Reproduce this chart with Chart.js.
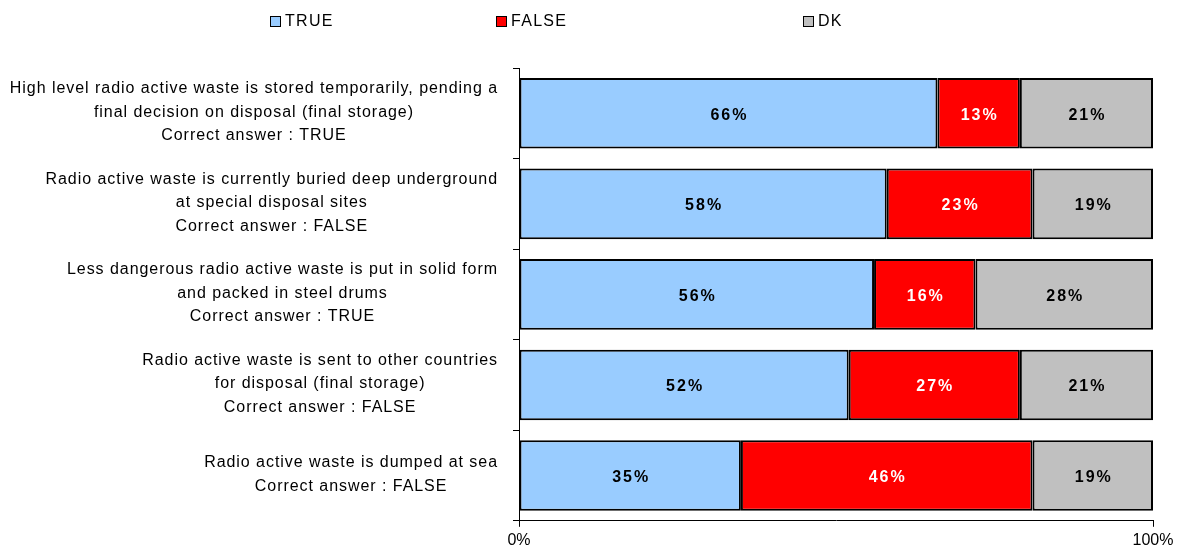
<!DOCTYPE html>
<html>
<head>
<meta charset="utf-8">
<script src="https://cdn.jsdelivr.net/npm/chart.js@4.4.0/dist/chart.umd.min.js"></script>
<style>
  html, body { margin: 0; padding: 0; background: #fff; }
  #wrap { position: relative; width: 1180px; height: 554px; }
  #legend { position: absolute; left: 0; top: 0; width: 1180px; height: 40px; font-family: "Liberation Sans", Arial, sans-serif; font-size: 16px; color: #000; }
  .item { position: absolute; top: 12px; display: flex; align-items: center; letter-spacing: 1.3px; }
  .box { width: 9px; height: 9px; border: 1.5px solid #000; margin-right: 4px; }
</style>
</head>
<body>
<div id="wrap">
  <div id="legend"></div>
  <canvas id="grafico" width="1180" height="554"></canvas>
</div>
<script>
// Categorías (etiquetas del eje Y, una línea por elemento)
const categorias = [
  ["High level radio active waste is stored temporarily, pending a", "final decision on disposal (final storage)", "Correct answer : TRUE"],
  ["Radio active waste is currently buried deep underground", "at special disposal sites", "Correct answer : FALSE"],
  ["Less dangerous radio active waste is put in solid form", "and packed in steel drums", "Correct answer : TRUE"],
  ["Radio active waste is sent to other countries", "for disposal (final storage)", "Correct answer : FALSE"],
  ["Radio active waste is dumped at sea", "Correct answer : FALSE"]
];

// Series (%)
const valoresTrue  = [66, 58, 56, 52, 35];
const valoresFalse = [13, 23, 16, 27, 46];
const valoresDK    = [21, 19, 28, 21, 19];

const nombresSeries = ["TRUE", "FALSE", "DK"];
const colores = ["#99CCFF", "#FF0000", "#C0C0C0"];
const coloresTexto = ["#000", "#fff", "#000"];

// Leyenda en HTML (posiciones como en el original)
const posLeyenda = [270, 496, 803];
const legendDiv = document.getElementById('legend');
nombresSeries.forEach((n, i) => {
  const el = document.createElement('div');
  el.className = 'item';
  el.style.left = posLeyenda[i] + 'px';
  el.innerHTML = `<span class="box" style="background:${colores[i]}"></span><span>${n}</span>`;
  legendDiv.appendChild(el);
});

// Etiquetas del eje Y: bloque alineado a la derecha, líneas centradas
const etiquetasY = {
  id: 'etiquetasY',
  afterDraw(chart) {
    const ctx = chart.ctx;
    const y = chart.scales.y;
    ctx.save();
    ctx.font = '16px "Liberation Sans", Arial, sans-serif';
    if ('letterSpacing' in ctx) ctx.letterSpacing = '0.95px';
    ctx.fillStyle = '#000';
    ctx.textBaseline = 'middle';
    ctx.textAlign = 'center';
    const derecha = chart.chartArea.left - 21;
    const altoLinea = 23.5;
    categorias.forEach((lineas, i) => {
      const ancho = Math.max(...lineas.map(l => ctx.measureText(l).width));
      const cx = derecha - ancho / 2;
      const cy = y.getPixelForTick(i) - 1;
      const y0 = cy - (lineas.length - 1) * altoLinea / 2;
      lineas.forEach((l, j) => ctx.fillText(l, cx, y0 + j * altoLinea));
    });
    ctx.restore();
  }
};

// Valores dentro de las barras
const valoresBarras = {
  id: 'valoresBarras',
  afterDatasetsDraw(chart) {
    const ctx = chart.ctx;
    ctx.save();
    ctx.font = 'bold 16px "Liberation Sans", Arial, sans-serif';
    ctx.textAlign = 'center';
    ctx.textBaseline = 'middle';
    if ('letterSpacing' in ctx) ctx.letterSpacing = '2px';
    chart.data.datasets.forEach((ds, i) => {
      const meta = chart.getDatasetMeta(i);
      meta.data.forEach((bar, j) => {
        const cx = (bar.x + bar.base) / 2 + 1;
        ctx.fillStyle = coloresTexto[i];
        ctx.fillText(ds.data[j] + '%', cx, bar.y + 2);
      });
    });
    ctx.restore();
  }
};

const ctx = document.getElementById('grafico').getContext('2d');
new Chart(ctx, {
  type: 'bar',
  data: {
    labels: categorias,
    datasets: [valoresTrue, valoresFalse, valoresDK].map((d, i) => ({
      label: nombresSeries[i],
      data: d,
      backgroundColor: colores[i],
      borderColor: '#000',
      borderWidth: 2,
      borderSkipped: false,
      barPercentage: 0.78,
      categoryPercentage: 1
    }))
  },
  options: {
    indexAxis: 'y',
    responsive: false,
    animation: false,
    layout: { padding: { top: 68, right: 27, bottom: 0, left: 0 } },
    plugins: {
      legend: { display: false },
      tooltip: { enabled: false }
    },
    scales: {
      x: {
        stacked: true,
        min: 0,
        max: 100,
        ticks: {
          stepSize: 100,
          callback: v => v + '%',
          color: '#000',
          font: { family: '"Liberation Sans", Arial, sans-serif', size: 16 },
          padding: 4,
          maxRotation: 0
        },
        grid: { drawOnChartArea: false, tickLength: 6, color: '#000' },
        border: { color: '#000', width: 1 }
      },
      y: {
        stacked: true,
        ticks: { display: false },
        grid: { drawOnChartArea: false, offset: true, tickLength: 6, color: '#000' },
        border: { color: '#000', width: 1 },
        afterFit(scale) { scale.width = 519; }
      }
    }
  },
  plugins: [etiquetasY, valoresBarras]
});
</script>
</body>
</html>
